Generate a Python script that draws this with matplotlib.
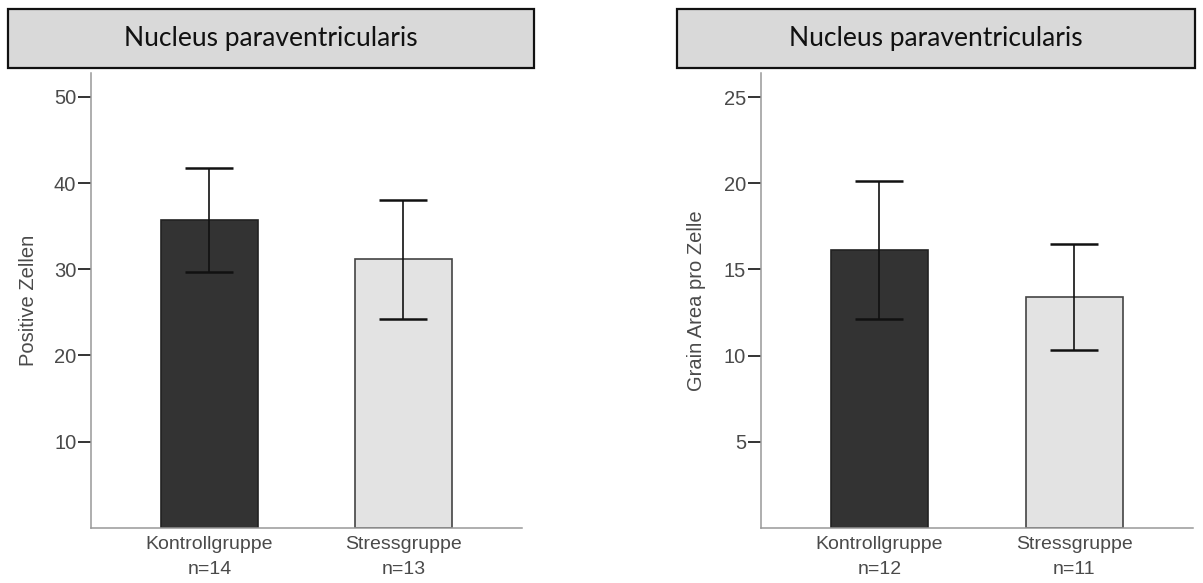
import matplotlib
matplotlib.use("Agg")
import matplotlib.pyplot as plt
from matplotlib.patches import Rectangle

# ---- data ----
groups = ["Kontrollgruppe", "Stressgruppe"]
n_left = ["n=14", "n=13"]
n_right = ["n=12", "n=11"]
title = "Nucleus paraventricularis"

left_means = [35.7, 31.15]
left_err = [6.0, 6.9]
left_ylabel = "Positive Zellen"
left_ticks = [10, 20, 30, 40, 50]

right_means = [16.15, 13.4]
right_err = [4.0, 3.1]
right_ylabel = "Grain Area pro Zelle"
right_ticks = [5, 10, 15, 20, 25]

bar_colors = ["#333333", "#e3e3e3"]
edge_colors = ["#222222", "#444444"]

W, H = 1203, 583
fig = plt.figure(figsize=(W / 100, H / 100), dpi=100)
plt.rcParams["font.family"] = ["Liberation Sans", "DejaVu Sans"]


def px_rect(x0, y0, x1, y1):
    # pixel coords (top-left origin) -> figure fraction rect
    return [x0 / W, 1 - y1 / H, (x1 - x0) / W, (y1 - y0) / H]


def panel(rect, means, errs, ns, ylabel, ticks, ymax, ylabel_x, xpad):
    ax = fig.add_axes(rect)
    x = [0, 1]
    ax.bar(x, means, width=0.5, color=bar_colors, edgecolor=edge_colors,
           linewidth=1.2, zorder=2)
    ax.errorbar(x, means, yerr=errs, fmt="none", ecolor="#111111",
                elinewidth=1.2, capsize=17, capthick=1.8, zorder=3)
    ax.set_xlim(-0.61, 1.61)
    ax.set_ylim(0, ymax)
    ax.set_yticks(ticks)
    ax.set_yticklabels([str(t) for t in ticks])
    ax.set_xticks(x)
    ax.set_xticklabels([f"{g}\n{n}" for g, n in zip(groups, ns)],
                       linespacing=1.6)
    for s in ["top", "right"]:
        ax.spines[s].set_visible(False)
    for s in ["left", "bottom"]:
        ax.spines[s].set_color("#999999")
        ax.spines[s].set_linewidth(1.1)
    ax.tick_params(axis="y", direction="out", length=9.6, width=1.4,
                   color="#333333", labelsize=14.5, labelcolor="#4a4a4a", pad=1)
    ax.tick_params(axis="x", length=0, labelsize=14, labelcolor="#4a4a4a", pad=xpad)
    ax.set_ylabel(ylabel, fontsize=14.5, color="#4a4a4a")
    ax.yaxis.set_label_coords(ylabel_x, 0.5)
    return ax


panel(px_rect(91, 72.7, 521.7, 527.9), left_means, left_err, n_left,
      left_ylabel, left_ticks, 52.8, -0.123, 6)
panel(px_rect(760.7, 73, 1193, 527.9), right_means, right_err, n_right,
      right_ylabel, right_ticks, 26.4, -0.127, 6)

# title boxes
for (x0, x1) in [(8, 534), (676.7, 1195)]:
    r = px_rect(x0, 9.3, x1, 67.7)
    fig.patches.append(Rectangle((r[0], r[1]), r[2], r[3], transform=fig.transFigure,
                                 facecolor="#d9d9d9", edgecolor="#111111",
                                 linewidth=1.6))
    fig.text((x0 + x1) / 2 / W, 1 - 38.5 / H, title, ha="center", va="center",
             fontsize=19, family=["Lato", "DejaVu Sans"], color="#111111")

fig.savefig("out.png", dpi=100)
